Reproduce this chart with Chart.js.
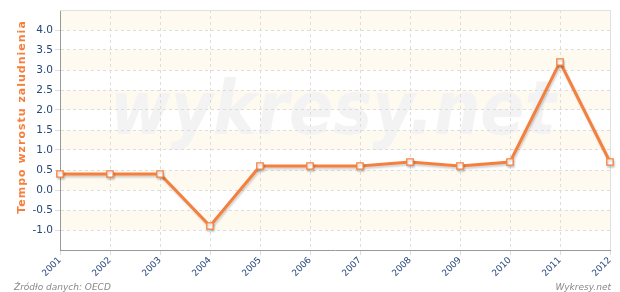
<!DOCTYPE html>
<html>
<head>
<meta charset="utf-8">
<script src="https://cdn.jsdelivr.net/npm/chart.js@4"></script>
<style>
  html, body { margin: 0; padding: 0; background: #fff; }
  #wrap { width: 620px; height: 292px; position: relative; }
</style>
</head>
<body>
<div id="wrap"><canvas id="chart" width="620" height="292"></canvas></div>
<script>
const years = ['2001', '2002', '2003', '2004', '2005', '2006', '2007', '2008', '2009', '2010', '2011', '2012'];
const growth = [0.4, 0.4, 0.4, -0.9, 0.6, 0.6, 0.6, 0.7, 0.6, 0.7, 3.2, 0.7];
const yMin = -1.5;
const yMax = 4.5;

const orange = '#f5803e';
const tickBlue = '#24477a';

// pale stripes and the watermark behind the line
const backdrop = {
    id: 'backdrop',
    beforeDraw(chart) {
        const { ctx, chartArea: a, scales: { y } } = chart;
        ctx.save();
        ctx.fillStyle = '#fffaf0';
        let i = 0;
        for (let v = yMax; v > yMin; v -= 0.5, i++) {
            if (i % 2 === 0) {
                const t = y.getPixelForValue(v);
                const b = y.getPixelForValue(v - 0.5);
                ctx.fillRect(a.left, t, a.right - a.left, b - t);
            }
        }
        ctx.font = 'italic bold 74px "DejaVu Sans"';
        ctx.fillStyle = '#f3f3f3';
        ctx.textBaseline = 'alphabetic';
        ctx.fillText('wykresy.net', 110, 134, 446);
        ctx.restore();
    },
    beforeDatasetsDraw(chart) {
        const { ctx, chartArea: a } = chart;
        ctx.save();
        ctx.strokeStyle = '#e0e0e0';
        ctx.lineWidth = 1;
        ctx.beginPath();
        ctx.moveTo(a.left, a.top + 0.5);
        ctx.lineTo(a.right + 0.5, a.top + 0.5);
        ctx.lineTo(a.right + 0.5, a.bottom);
        ctx.stroke();
        ctx.restore();
    },
    afterDraw(chart) {
        const { ctx } = chart;
        ctx.save();
        ctx.font = 'italic 9px "DejaVu Sans"';
        ctx.fillStyle = '#888';
        ctx.textBaseline = 'alphabetic';
        ctx.textAlign = 'left';
        ctx.fillText('Źródło danych: OECD', 14, 290);
        ctx.textAlign = 'right';
        ctx.fillText('Wykresy.net', 611, 290);

        ctx.translate(22, 117);
        ctx.rotate(-Math.PI / 2);
        ctx.font = 'bold 11px "DejaVu Sans"';
        ctx.fillStyle = orange;
        ctx.textAlign = 'center';
        ctx.textBaseline = 'middle';
        ctx.letterSpacing = '1px';
        ctx.fillText('Tempo wzrostu zaludnienia', 0, 0);
        ctx.restore();
    },
    beforeDatasetDraw(chart) {
        const ctx = chart.ctx;
        ctx.save();
        ctx.shadowColor = 'rgba(0,0,0,0.18)';
        ctx.shadowOffsetX = 1;
        ctx.shadowOffsetY = 2;
        ctx.shadowBlur = 2;
    },
    afterDatasetDraw(chart) {
        chart.ctx.restore();
    }
};

new Chart(document.getElementById('chart'), {
    type: 'line',
    data: {
        labels: years,
        datasets: [{
            data: growth,
            borderColor: orange,
            borderWidth: 3,
            pointStyle: 'rect',
            pointRadius: 4.5,
            pointBackgroundColor: '#fff',
            pointBorderColor: orange,
            pointBorderWidth: 1.3,
            tension: 0,
            clip: false
        }]
    },
    options: {
        responsive: false,
        animation: false,
        layout: { padding: { top: 10, right: 10, left: 0, bottom: 0 } },
        plugins: {
            legend: { display: false },
            tooltip: { enabled: false }
        },
        scales: {
            x: {
                offset: false,
                afterFit: s => { s.height = 42; },
                border: { color: '#999', width: 1, dash: [3, 3] },
                grid: { color: '#dddddd', tickLength: 5, drawTicks: true },
                ticks: {
                    maxRotation: 45,
                    minRotation: 45,
                    color: tickBlue,
                    font: { family: 'DejaVu Sans', size: 9 },
                    padding: 0
                }
            },
            y: {
                min: yMin,
                max: yMax,
                afterFit: s => { s.width = 60; },
                border: { color: '#999', width: 1, dash: [3, 3] },
                grid: { color: '#dddddd', tickLength: 5 },
                afterBuildTicks: s => {
                    s.ticks = s.ticks.filter(t => t.value >= -1 && t.value <= 4);
                },
                ticks: {
                    stepSize: 0.5,
                    color: tickBlue,
                    font: { family: 'DejaVu Sans', size: 10.5 },
                    padding: 2,
                    callback: v => v.toFixed(1)
                }
            }
        }
    },
    plugins: [backdrop]
});
</script>
</body>
</html>
